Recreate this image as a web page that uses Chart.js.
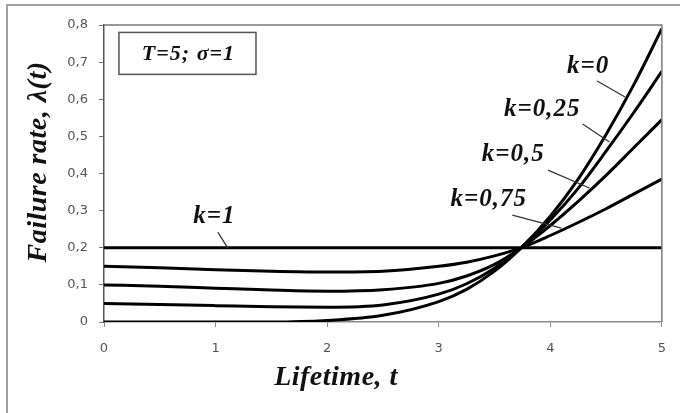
<!DOCTYPE html>
<html>
<head>
<meta charset="utf-8">
<script src="https://cdn.jsdelivr.net/npm/chart.js@4"></script>
<style>
  html, body { margin: 0; padding: 0; background: #fff; }
  #wrap { width: 680px; height: 413px; }
</style>
</head>
<body>
<div id="wrap"><canvas id="rateChart" width="680" height="413"></canvas></div>
<script>
// failure rate curves, T=5, sigma=1
const times = [0, 0.5, 1, 1.5, 2, 2.5, 3, 3.25, 3.5, 3.75, 4, 4.25, 4.5, 4.75, 5];
const rate_k1 = [0.2, 0.2, 0.2, 0.2, 0.2, 0.2, 0.2, 0.2, 0.2, 0.2, 0.2, 0.2, 0.2, 0.2, 0.2];
const rate_k075 = [0.15, 0.146, 0.141, 0.137, 0.135, 0.137, 0.15, 0.161, 0.178, 0.201, 0.233, 0.268, 0.305, 0.345, 0.385];
const rate_k05 = [0.1, 0.096, 0.091, 0.086, 0.083, 0.087, 0.104, 0.124, 0.155, 0.202, 0.26, 0.325, 0.395, 0.47, 0.545];
const rate_k025 = [0.05, 0.047, 0.044, 0.041, 0.04, 0.046, 0.075, 0.103, 0.145, 0.203, 0.275, 0.36, 0.46, 0.565, 0.675];
const rate_k0 = [0, 0, 0, 0, 0.004, 0.018, 0.055, 0.088, 0.137, 0.203, 0.285, 0.385, 0.505, 0.64, 0.79];

// curve labels: text position and leader line, in data units
const labelTexts = ["k=0", "k=0,25", "k=0,5", "k=0,75", "k=1"];
const labelPos = [[4.33, 0.687], [3.92, 0.571], [3.66, 0.45], [3.44, 0.329], [0.98, 0.283]];
const leaderFrom = [[4.42, 0.649], [4.29, 0.533], [3.98, 0.409], [3.66, 0.288], [1.02, 0.242]];
const leaderTo = [[4.67, 0.606], [4.53, 0.485], [4.35, 0.361], [4.10, 0.253], [1.11, 0.199]];

const xTicks = [0, 1, 2, 3, 4, 5];
const yTicks = [0, 0.1, 0.2, 0.3, 0.4, 0.5, 0.6, 0.7, 0.8];

function toPoints(ys) {
  return times.map((t, i) => ({ x: t, y: ys[i] }));
}

function curve(ys) {
  return {
    data: toPoints(ys),
    borderColor: "#000",
    borderWidth: 3,
    pointRadius: 0,
    cubicInterpolationMode: "monotone",
    fill: false,
  };
}

const serif = "'Liberation Serif', 'Times New Roman', serif";

const decor = {
  id: "decor",
  afterDraw(chart) {
    const ctx = chart.ctx;
    const xs = chart.scales.x;
    const ys = chart.scales.y;
    const area = chart.chartArea;
    ctx.save();

    // outer frame (only left and top fall inside the picture)
    ctx.strokeStyle = "#a0a0a0";
    ctx.lineWidth = 2;
    ctx.strokeRect(7, 5, 700, 430);

    // plot frame top and right
    ctx.strokeStyle = "#7a7a7a";
    ctx.lineWidth = 1.5;
    ctx.beginPath();
    ctx.moveTo(area.left, area.top);
    ctx.lineTo(area.right, area.top);
    ctx.lineTo(area.right, area.bottom);
    ctx.stroke();

    // parameter box
    const bx1 = xs.getPixelForValue(0.134), by1 = ys.getPixelForValue(0.78);
    const bx2 = xs.getPixelForValue(1.362), by2 = ys.getPixelForValue(0.667);
    ctx.fillStyle = "#fff";
    ctx.fillRect(bx1, by1, bx2 - bx1, by2 - by1);
    ctx.strokeStyle = "#555";
    ctx.lineWidth = 1.5;
    ctx.strokeRect(bx1, by1, bx2 - bx1, by2 - by1);
    ctx.fillStyle = "#111";
    ctx.font = "italic bold 22px " + serif;
    ctx.letterSpacing = "1px";
    ctx.textAlign = "center";
    ctx.textBaseline = "middle";
    ctx.fillText("T=5; \u03c3=1", (bx1 + bx2) / 2 + 1, (by1 + by2) / 2 + 1);

    // curve labels and leader lines
    ctx.strokeStyle = "#333";
    ctx.lineWidth = 1.2;
    labelTexts.forEach((txt, i) => {
      ctx.beginPath();
      ctx.moveTo(xs.getPixelForValue(leaderFrom[i][0]), ys.getPixelForValue(leaderFrom[i][1]));
      ctx.lineTo(xs.getPixelForValue(leaderTo[i][0]), ys.getPixelForValue(leaderTo[i][1]));
      ctx.stroke();
      ctx.font = "italic bold 25px " + serif;
      ctx.fillStyle = "#111";
      ctx.fillText(txt, xs.getPixelForValue(labelPos[i][0]) + 1, ys.getPixelForValue(labelPos[i][1]));
    });

    // axis titles
    ctx.font = "italic bold 28px " + serif;
    ctx.letterSpacing = "0.5px";
    ctx.fillText("Lifetime, t", 336, 378);
    ctx.translate(39, 162);
    ctx.rotate(-Math.PI / 2);
    ctx.fillText("Failure rate, \u03bb(t)", 0, 0);
    ctx.restore();
  },
};

new Chart(document.getElementById("rateChart"), {
  type: "line",
  data: {
    datasets: [curve(rate_k1), curve(rate_k075), curve(rate_k05), curve(rate_k025), curve(rate_k0)],
  },
  options: {
    responsive: false,
    animation: false,
    layout: { padding: { left: 0, right: 18, top: 25, bottom: 0 } },
    plugins: {
      legend: { display: false },
      tooltip: { enabled: false },
    },
    scales: {
      x: {
        type: "linear",
        min: 0,
        max: 5,
        afterFit: (s) => { s.height = 91; },
        afterBuildTicks: (s) => { s.ticks = xTicks.map((v) => ({ value: v })); },
        border: { display: true, color: "#8a8a8a", width: 1.5 },
        grid: { drawOnChartArea: false, drawTicks: true, tickLength: 5, color: "#8a8a8a" },
        ticks: {
          color: "#555",
          font: { family: "'DejaVu Sans', Verdana, sans-serif", size: 13 },
          padding: 14,
          maxRotation: 0,
        },
      },
      y: {
        min: 0,
        max: 0.8,
        afterFit: (s) => { s.width = 104; },
        afterBuildTicks: (s) => { s.ticks = yTicks.map((v) => ({ value: v })); },
        border: { display: true, color: "#555", width: 1.5 },
        grid: { drawOnChartArea: false, drawTicks: true, tickLength: 5, color: "#777" },
        ticks: {
          color: "#555",
          font: { family: "'DejaVu Sans', Verdana, sans-serif", size: 13 },
          padding: 11,
          callback: (v) => (v === 0 ? "0" : v.toFixed(1).replace(".", ",")),
        },
      },
    },
  },
  plugins: [decor],
});
</script>
</body>
</html>
